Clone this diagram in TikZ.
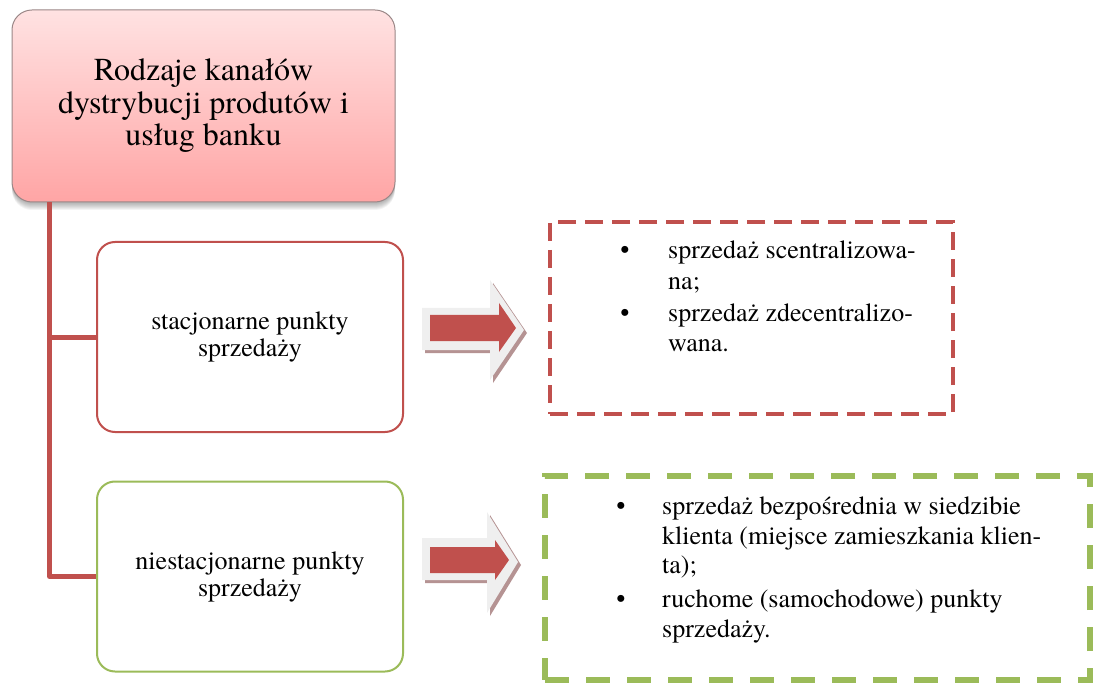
\documentclass[tikz,border=0pt]{standalone}
\usepackage{fontspec}
\setmainfont{TeX Gyre Termes}
\begin{document}
\begin{tikzpicture}[x=1pt,y=-1pt,
  headbox/.style={rounded corners=20pt, draw=headborder, line width=1pt,
    top color=headtop, bottom color=headbottom, inner sep=0pt,
    minimum width=383pt, minimum height=192pt, align=center,
    font=\fontsize{32}{32.5}\selectfont},
  catbox/.style={rounded corners=18pt, fill=white, line width=2pt, inner sep=0pt,
    minimum width=306pt, minimum height=190pt, align=center,
    font=\fontsize{26}{27}\selectfont},
  conn/.style={draw=accentred, line width=5pt, line join=round},
  listline/.style={anchor=base west, inner sep=0pt, font=\fontsize{26}{30}\selectfont},
  bulletmark/.style={anchor=base, inner sep=0pt, font=\fontsize{26}{30}\selectfont},
  halo/.style={fill=halogray},
  arrowshadow/.style={fill=shadowbrown},
  arrowbody/.style={fill=accentred},
]
\definecolor{accentred}{HTML}{C0504D}
\definecolor{accentgreen}{HTML}{9BBB59}
\definecolor{headtop}{HTML}{FFE2E2}
\definecolor{headbottom}{HTML}{FFA5A5}
\definecolor{headborder}{HTML}{9A8787}
\definecolor{halogray}{HTML}{EFEFEF}
\definecolor{shadowbrown}{HTML}{B59393}

\useasboundingbox (0,0) rectangle (1094,684);

% soft shadow under the title box
\foreach \d in {1,...,8}
  \fill[black, opacity=0.045, rounded corners=20pt] (12,12+\d) rectangle (395,202+\d);

% title box
\node[headbox] (top) at (203.5,106) {Rodzaje kanałów\\dystrybucji produtów i\\usług banku};

% category boxes
\node[catbox, draw=accentred] (b1) at (250,337) {stacjonarne punkty\\sprzedaży};
\node[catbox, draw=accentgreen] (b2) at (250,576.5) {niestacjonarne punkty\\sprzedaży};

% tree connectors
\coordinate (trunk) at ([xshift=38pt]top.south west);
\draw[conn] (trunk) |- (b2.west);
\draw[conn] (trunk) |- (b1.west);

% dashed frames of the lists
\node[draw=accentred, line width=4pt, dash pattern=on 18pt off 9pt, inner sep=0pt,
  minimum width=403pt, minimum height=192pt] (rl) at (751.5,318) {};
\node[draw=accentgreen, line width=6pt, dash pattern=on 24pt off 17pt, inner sep=0pt,
  minimum width=545pt, minimum height=204pt] (gl) at (817.5,578) {};

% block arrows
\fill[arrowshadow] (425,311) -- (493,311) -- (493,283) -- (527,333) -- (493,383) -- (493,353) -- (425,353) -- cycle;
\fill[halo] (422,308) -- (490,308) -- (490,280) -- (524,330) -- (490,380) -- (490,350) -- (422,350) -- cycle;
\fill[arrowbody] (430,315) -- (499,315) -- (499,303) -- (516,328) -- (499,352) -- (499,341) -- (430,341) -- cycle;

\fill[arrowshadow] (425,541) -- (490,541) -- (490,515) -- (521,565) -- (490,616) -- (490,583) -- (425,583) -- cycle;
\fill[halo] (422,538) -- (487,538) -- (487,512) -- (518,562) -- (487,613) -- (487,580) -- (422,580) -- cycle;
\fill[arrowbody] (430,547) -- (495,547) -- (495,540) -- (509,560) -- (495,580) -- (495,573) -- (430,573) -- cycle;

% list: stationary points
\node[bulletmark] (rb1) at (625,259) {\textbullet};
\node[listline] (r1) at (668,259) {sprzedaż scentralizowa-};
\node[listline] (r2) at (668,290) {na;};
\node[bulletmark] (rb2) at (625,321) {\textbullet};
\node[listline] (r3) at (668,321) {sprzedaż zdecentralizo-};
\node[listline] (r4) at (668,352) {wana.};

% list: mobile points
\node[bulletmark] (gb1) at (621,514) {\textbullet};
\node[listline] (g1) at (662,514) {sprzedaż bezpośrednia w siedzibie};
\node[listline] (g2) at (662,544) {klienta (miejsce zamieszkania klien-};
\node[listline] (g3) at (662,573) {ta);};
\node[bulletmark] (gb2) at (621,607) {\textbullet};
\node[listline] (g4) at (662,607) {ruchome (samochodowe) punkty};
\node[listline] (g5) at (662,637) {sprzedaży.};
\end{tikzpicture}
\end{document}
